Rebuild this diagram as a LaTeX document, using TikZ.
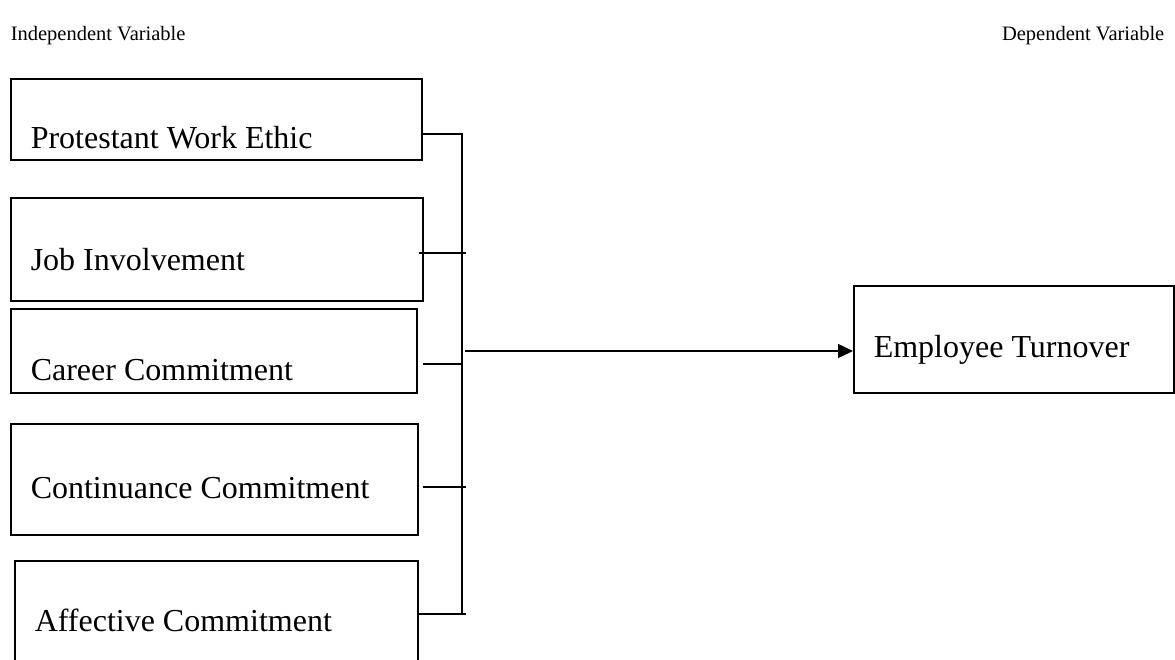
\documentclass[tikz,border=0pt]{standalone}
\usepackage{fontspec}
\setmainfont{Liberation Serif}
\usetikzlibrary{arrows.meta,positioning,calc}

\begin{document}
\begin{tikzpicture}[x=1pt,y=-1pt,>={Triangle[length=15pt,width=14pt]},line width=1.5pt,
 box/.style={draw,line width=1.5pt,anchor=north west,inner sep=0pt},
 lbl/.style={anchor=base west,inner sep=0pt,font=\fontsize{32}{38}\selectfont},
 head/.style={inner sep=0pt,font=\fontsize{20.5}{24}\selectfont}]
\path[use as bounding box,clip] (0,0) rectangle (1175,659);
\node[head,anchor=base west] (indep) at (10,40) {Independent Variable};
\node[head,anchor=base east] (dep) at (1165,40) {Dependent Variable};
% independent variables
\node[box,minimum width=411pt,minimum height=81pt] (pwe) at (10,78) {};
\node[box,minimum width=412pt,minimum height=103pt] (ji) at (10,197) {};
\node[box,minimum width=406pt,minimum height=84pt] (cc) at (10,308) {};
\node[box,minimum width=407pt,minimum height=111pt] (ctc) at (10,423) {};
\node[box,minimum width=403pt,minimum height=150pt] (ac) at (14,560) {};
\node[lbl] (pwetext) at (30,148) {Protestant Work Ethic};
\node[lbl] (jitext) at (30,270) {Job Involvement};
\node[lbl] (cctext) at (30,380) {Career Commitment};
\node[lbl] (ctctext) at (30,498) {Continuance Commitment};
\node[lbl] (actext) at (34,631) {Affective Commitment};
% dependent variable
\node[box,minimum width=320pt,minimum height=107pt] (et) at (853,285) {};
\node[lbl] (ettext) at (873,357) {Employee Turnover};
% bus and arrow
\coordinate (bustop) at (462,134);
\coordinate (busbot) at (462,614);
\coordinate (join) at (465,351);
\draw (pwe.east |- bustop) -- (bustop) -- (busbot);
\draw ([xshift=-5pt]ji.east |- 0,253) -- ([xshift=4pt]bustop |- 0,253);
\draw ([xshift=5pt]cc.east |- 0,364) -- (bustop |- 0,364);
\draw ([xshift=4pt]ctc.east |- 0,487) -- ([xshift=4pt]bustop |- 0,487);
\draw (ac.east |- busbot) -- ([xshift=4pt]busbot);
\draw[->] (join) -- (join -| et.west);
\end{tikzpicture}
\end{document}
